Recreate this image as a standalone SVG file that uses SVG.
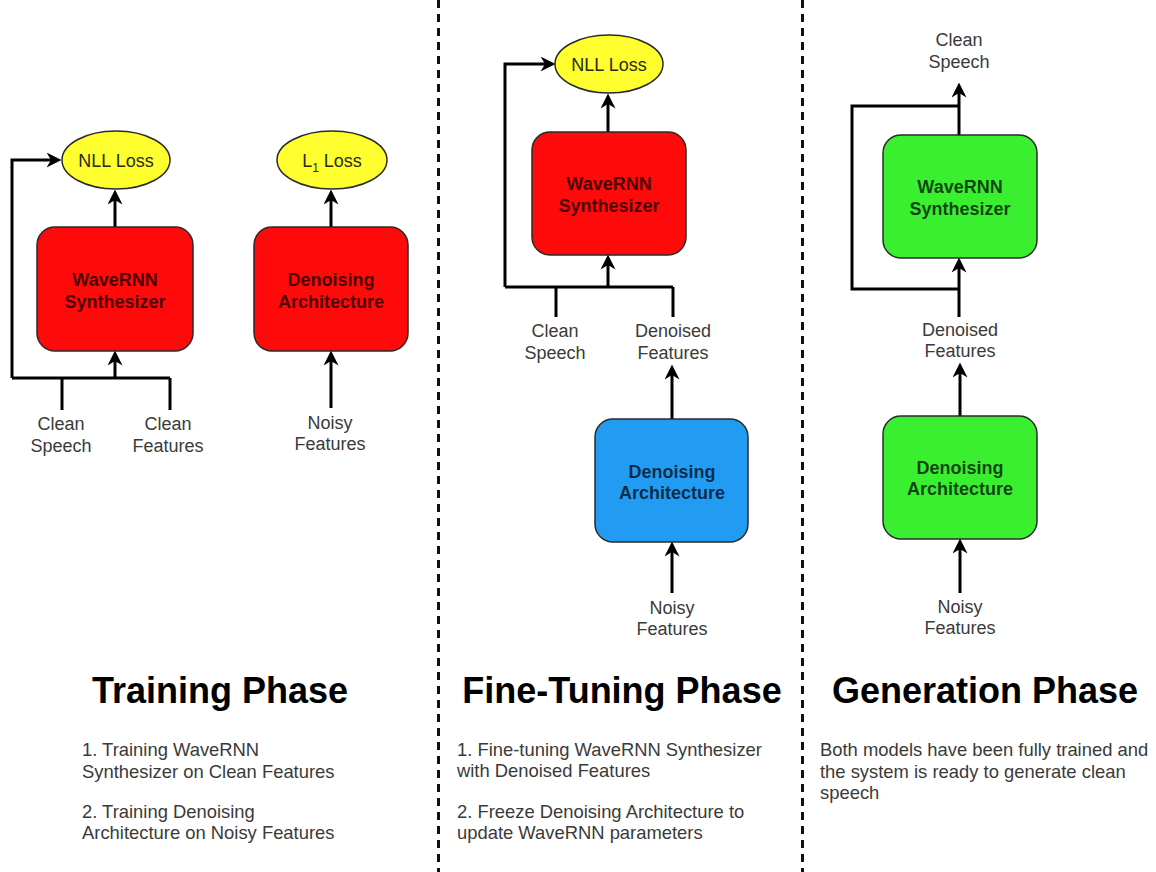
<svg xmlns="http://www.w3.org/2000/svg" width="1156" height="872" viewBox="0 0 1156 872">
  <defs>
    <marker id="arrow" viewBox="0 0 10 10" markerWidth="15" markerHeight="15" markerUnits="userSpaceOnUse" refX="3" refY="5" orient="auto">
      <path d="M0,0 L10,5 L0,10 L3,5 z" fill="#000"/>
    </marker>
  </defs>
  <style>
    text { font-family: "Liberation Sans", Arial, sans-serif; }
    .box { stroke: #2a2a2a; stroke-width: 1.5; }
    .red { fill: #ff0a0a; }
    .blue { fill: #229cf2; }
    .green { fill: #3aee30; }
    .loss { fill: #ffff30; stroke: #2a2a2a; stroke-width: 1.5; }
    .boxlabel { font-size: 18px; font-weight: bold; text-anchor: middle; fill: #000; fill-opacity: 0.72; }
    .losslabel { font-size: 18px; text-anchor: middle; fill: #2a2a10; }
    .label { font-size: 18px; text-anchor: middle; fill: #3a3a3a; }
    .title { font-size: 36px; font-weight: bold; text-anchor: middle; fill: #000; }
    .body { font-size: 18.4px; fill: #3a3a3a; }
    .wire { fill: none; stroke: #000; stroke-width: 3; }
    .arrow { fill: none; stroke: #000; stroke-width: 3; marker-end: url(#arrow); }
    .divider { stroke: #111; stroke-width: 3; stroke-dasharray: 8 6; }
  </style>

  <rect width="1156" height="872" fill="#fff"/>

  <!-- phase dividers -->
  <g id="dividers">
    <line class="divider" x1="438.5" y1="0" x2="438.5" y2="872"/>
    <line class="divider" x1="802.5" y1="0" x2="802.5" y2="872"/>
  </g>

  <!-- connectors -->
  <g id="connectors">
    <!-- training phase -->
    <path class="wire" d="M62,410 V378 M170,410 V378 M12,378 H170"/>
    <path class="arrow" d="M12,378 V160 H51"/>
    <path class="arrow" d="M115,378 V361"/>
    <path class="arrow" d="M115,227 V200"/>
    <path class="arrow" d="M331,408 V361"/>
    <path class="arrow" d="M331,227 V200"/>
    <!-- fine-tuning phase -->
    <path class="wire" d="M556,317 V287 M673,317 V287 M505,287 H673"/>
    <path class="arrow" d="M505,287 V64 H545"/>
    <path class="arrow" d="M608,287 V265"/>
    <path class="arrow" d="M608,132 V104"/>
    <path class="arrow" d="M672,419 V375"/>
    <path class="arrow" d="M672,593 V552"/>
    <!-- generation phase -->
    <path class="wire" d="M959,106 H852 V289 H959"/>
    <path class="arrow" d="M959,135 V93"/>
    <path class="arrow" d="M959,317 V268"/>
    <path class="arrow" d="M960,416 V373"/>
    <path class="arrow" d="M960,593 V549"/>
  </g>

  <!-- training phase nodes -->
  <g id="train-nll-loss">
    <ellipse class="loss" cx="116" cy="160" rx="54" ry="29"/>
    <text class="losslabel" x="116" y="166.5">NLL Loss</text>
  </g>
  <g id="train-wavernn">
    <rect class="box red" x="37" y="227" width="156" height="124" rx="18"/>
    <text class="boxlabel" x="115" y="285.5">WaveRNN</text>
    <text class="boxlabel" x="115" y="307.5">Synthesizer</text>
  </g>
  <g id="train-clean-speech">
    <text class="label" x="61" y="429.5">Clean</text>
    <text class="label" x="61" y="451.5">Speech</text>
  </g>
  <g id="train-clean-features">
    <text class="label" x="168" y="429.5">Clean</text>
    <text class="label" x="168" y="451.5">Features</text>
  </g>
  <g id="train-l1-loss">
    <ellipse class="loss" cx="332" cy="160" rx="55" ry="29"/>
    <text class="losslabel" x="332" y="166.5">L<tspan font-size="12" dy="5">1</tspan><tspan dy="-5"> Loss</tspan></text>
  </g>
  <g id="train-denoiser">
    <rect class="box red" x="254" y="227" width="154" height="124" rx="18"/>
    <text class="boxlabel" x="331" y="285.5">Denoising</text>
    <text class="boxlabel" x="331" y="307.5">Architecture</text>
  </g>
  <g id="train-noisy-features">
    <text class="label" x="330" y="428.5">Noisy</text>
    <text class="label" x="330" y="450">Features</text>
  </g>

  <!-- fine-tuning phase nodes -->
  <g id="tune-nll-loss">
    <ellipse class="loss" cx="609" cy="64" rx="54" ry="29"/>
    <text class="losslabel" x="609" y="70.5">NLL Loss</text>
  </g>
  <g id="tune-wavernn">
    <rect class="box red" x="532" y="132" width="154" height="123" rx="18"/>
    <text class="boxlabel" x="609" y="189.5">WaveRNN</text>
    <text class="boxlabel" x="609" y="211.5">Synthesizer</text>
  </g>
  <g id="tune-clean-speech">
    <text class="label" x="555" y="336.5">Clean</text>
    <text class="label" x="555" y="358.5">Speech</text>
  </g>
  <g id="tune-denoised-features">
    <text class="label" x="673" y="336.5">Denoised</text>
    <text class="label" x="673" y="358.5">Features</text>
  </g>
  <g id="tune-denoiser">
    <rect class="box blue" x="595" y="419" width="153" height="123" rx="18"/>
    <text class="boxlabel" x="672" y="477.5">Denoising</text>
    <text class="boxlabel" x="672" y="499">Architecture</text>
  </g>
  <g id="tune-noisy-features">
    <text class="label" x="672" y="613.5">Noisy</text>
    <text class="label" x="672" y="634.5">Features</text>
  </g>

  <!-- generation phase nodes -->
  <g id="gen-clean-speech">
    <text class="label" x="959" y="45.5">Clean</text>
    <text class="label" x="959" y="67.5">Speech</text>
  </g>
  <g id="gen-wavernn">
    <rect class="box green" x="883" y="135" width="154" height="123" rx="18"/>
    <text class="boxlabel" x="960" y="193">WaveRNN</text>
    <text class="boxlabel" x="960" y="215">Synthesizer</text>
  </g>
  <g id="gen-denoised-features">
    <text class="label" x="960" y="335.5">Denoised</text>
    <text class="label" x="960" y="356.5">Features</text>
  </g>
  <g id="gen-denoiser">
    <rect class="box green" x="883" y="416" width="154" height="123" rx="18"/>
    <text class="boxlabel" x="960" y="473.5">Denoising</text>
    <text class="boxlabel" x="960" y="495">Architecture</text>
  </g>
  <g id="gen-noisy-features">
    <text class="label" x="960" y="612.5">Noisy</text>
    <text class="label" x="960" y="633.5">Features</text>
  </g>

  <!-- phase captions -->
  <g id="training-caption">
    <text class="title" x="220" y="703">Training Phase</text>
    <text class="body" x="82" y="756">1. Training WaveRNN</text>
    <text class="body" x="82" y="777.5">Synthesizer on Clean Features</text>
    <text class="body" x="82" y="818">2. Training Denoising</text>
    <text class="body" x="82" y="839">Architecture on Noisy Features</text>
  </g>
  <g id="finetuning-caption">
    <text class="title" x="622" y="703">Fine-Tuning Phase</text>
    <text class="body" x="457" y="756">1. Fine-tuning WaveRNN Synthesizer</text>
    <text class="body" x="457" y="777">with Denoised Features</text>
    <text class="body" x="457" y="818">2. Freeze Denoising Architecture to</text>
    <text class="body" x="457" y="838.5">update WaveRNN parameters</text>
  </g>
  <g id="generation-caption">
    <text class="title" x="985" y="703">Generation Phase</text>
    <text class="body" x="820" y="756">Both models have been fully trained and</text>
    <text class="body" x="820" y="777.5">the system is ready to generate clean</text>
    <text class="body" x="820" y="799">speech</text>
  </g>
</svg>
